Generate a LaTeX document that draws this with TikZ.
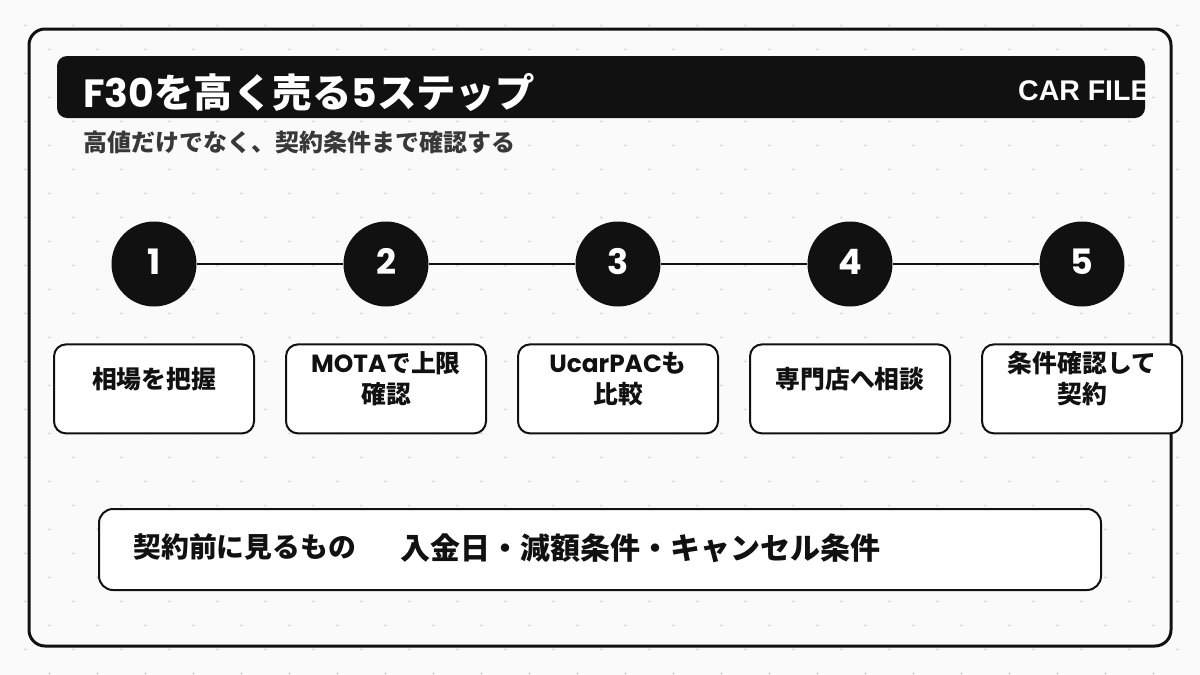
\documentclass[tikz,border=0pt]{standalone}
\usepackage{fontspec}
\setmainfont{Noto Sans CJK JP}
\newfontfamily\popfont{Poppins}
\newfontfamily\arialfont{Liberation Sans}
\usepackage{tikz}
\usetikzlibrary{positioning}
\definecolor{ink}{HTML}{111111}
\definecolor{paper}{HTML}{FAFAFA}
\definecolor{dotgray}{HTML}{DFDFDF}
\definecolor{subgray}{HTML}{383838}

\begin{document}
\begin{tikzpicture}[x=0.5pt, y=-0.5pt,
  stepnum/.style={circle, fill=ink, minimum size=42.5pt, inner sep=0pt,
                  text=white, font=\popfont\bfseries\fontsize{17.5}{20}\selectfont},
  stepbox/.style={draw=ink, fill=white, line width=1pt, rounded corners=6pt,
                  minimum width=100pt, minimum height=44.5pt, inner sep=0pt},
  steplabel/.style={align=center, inner sep=0pt, text=ink,
                    font=\bfseries\fontsize{12.4}{15.5}\selectfont},
  link/.style={line width=1.3pt, draw=ink},
  grid dot/.style={draw=dotgray, line width=0.5pt}
]
\useasboundingbox (0,0) rectangle (1200,675);
\fill[paper] (0,0) rectangle (1200,675);

% dotted paper
\foreach \x in {25,73,...,1200}
  \foreach \y in {25,73,...,675}
    \draw[grid dot] (\x-1.5,\y) -- (\x+1.5,\y) (\x,\y-1.5) -- (\x,\y+1.5);
\foreach \x in {49,97,...,1200}
  \foreach \y in {49,97,...,675}
    \draw[grid dot] (\x-1.5,\y) -- (\x+1.5,\y) (\x,\y-1.5) -- (\x,\y+1.5);

% frame and header
\draw[ink, line width=1.5pt, rounded corners=8pt] (29,29) rectangle (1171,646);
\fill[ink, rounded corners=5pt] (57,56) rectangle (1145,118);

\node[anchor=west, inner sep=0pt, text=white, font=\bfseries\fontsize{19.7}{22}\selectfont]
  (title) at (83,92) {{\popfont F30}を高く売る{\popfont 5}ステップ};
\node[anchor=east, inner sep=0pt, text=white, font=\arialfont\bfseries\fontsize{14.25}{16}\selectfont]
  (brand) at (1150,91) {CAR FILE};
\node[anchor=west, inner sep=0pt, text=subgray, font=\bfseries\fontsize{12}{14}\selectfont]
  (subtitle) at (83,142) {高値だけでなく、契約条件まで確認する};

% steps
\foreach \n/\x/\txt in {1/154/{相場を把握},
                         2/386/{{\popfont MOTA}で上限\\確認},
                         3/618/{{\popfont UcarPAC}も\\比較},
                         4/850/{専門店へ相談},
                         5/1082/{条件確認して\\契約}} {
  \node[stepnum] (c\n) at (\x,264) {\raisebox{2.2pt}{\n}};
  \node[stepbox, below=18.25pt of c\n] (b\n) {};
  \node[steplabel] (t\n) at ([yshift=5pt]b\n.center) {\txt};
}
\foreach \a/\b in {1/2, 2/3, 3/4, 4/5}
  \draw[link] (c\a) -- (c\b);

% note before signing
\node[draw=ink, fill=white, line width=1pt, rounded corners=7pt,
      minimum width=501pt, minimum height=40.5pt] (notebox) at (600,549.5) {};
\node[anchor=west, inner sep=0pt, text=ink, font=\bfseries\fontsize{13.9}{16}\selectfont]
  (notehead) at (133,547) {契約前に見るもの};
\node[anchor=west, inner sep=0pt, text=ink, font=\bfseries\fontsize{15}{18}\selectfont]
  (notebody) at (400,548) {入金日・減額条件・キャンセル条件};
\end{tikzpicture}
\end{document}
